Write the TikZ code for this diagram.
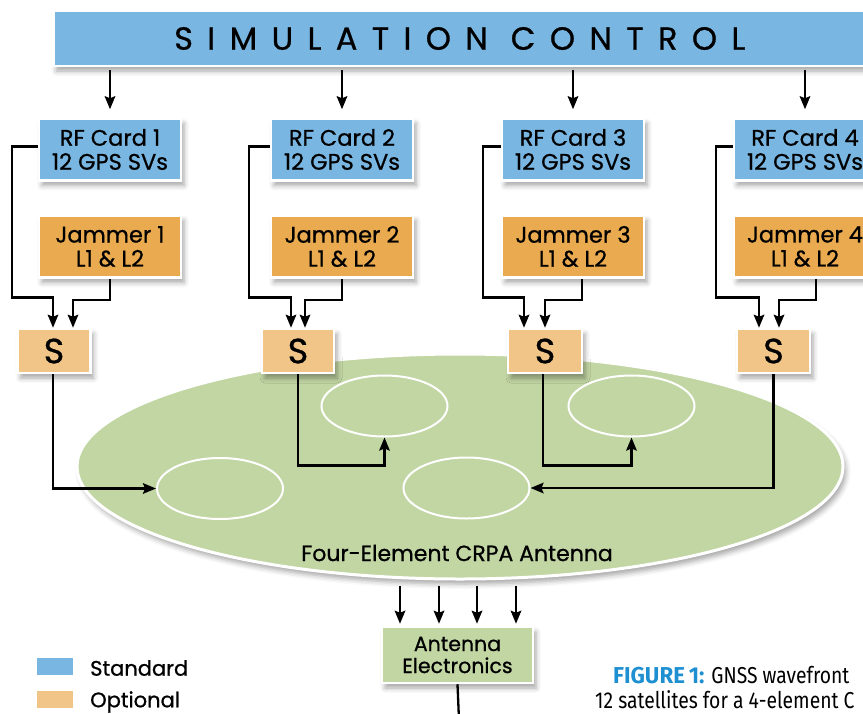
\documentclass[tikz,border=0pt]{standalone}
\usepackage{fontspec}
\setmainfont{Poppins}[FakeBold=0.8]
\newfontfamily\narrowfont[FakeStretch=0.84]{Fira Sans}
\newfontfamily\capbold[FakeStretch=0.97]{Fira Sans}
\newfontfamily\spacedfont[LetterSpace=45,FakeBold=0.8]{Poppins}
\usetikzlibrary{arrows.meta,shapes.geometric,shadows.blur}
\definecolor{stdblue}{HTML}{7AB6E2}
\definecolor{jamorange}{HTML}{E9AA50}
\definecolor{optorange}{HTML}{F1C588}
\definecolor{antgreen}{HTML}{C2D6A4}
\definecolor{capblue}{HTML}{1E90D2}
\begin{document}
\begin{tikzpicture}[x=1pt,y=-1pt,
  shad/.style={blur shadow={shadow xshift=3pt,shadow yshift=-5pt,shadow blur radius=5pt,shadow opacity=35}},
  box/.style={shad,draw=white,line width=2.5pt,minimum width=142pt,minimum height=62pt,align=center,inner sep=0pt,font=\fontsize{22.5}{24}\selectfont},
  sbox/.style={shad,draw=white,line width=2.5pt,fill=optorange,minimum height=44pt,inner sep=0pt,font=\fontsize{35}{35}\selectfont},
  elem/.style={ellipse,draw=white,line width=2pt,fill=antgreen,minimum width=126pt,minimum height=61pt,inner sep=0pt},
  arr/.style={line width=2.3pt,-{Stealth[length=13pt,width=10.5pt,inset=2pt]}},
  ln/.style={line width=2.3pt},
  legsq/.style={draw=white,line width=0.8pt,minimum width=37pt,minimum height=18pt,inner sep=0pt},
  captxt/.style={anchor=base west,inner sep=0pt,font=\narrowfont\fontsize{23}{25}\selectfont}
]
\useasboundingbox (0,0) rectangle (863,713);
\clip (0,0) rectangle (863,713);

% simulation control
\node[box,fill=stdblue,minimum width=813pt,minimum height=55pt,anchor=west] (sim) at (52,38.5)
  {\spacedfont\fontsize{32}{32}\selectfont SIMULATION CONTROL};

% RF cards
\node[box,fill=stdblue] (rf1) at (110,149.5) {RF Card 1\\12 GPS SVs};
\node[box,fill=stdblue] (rf2) at (342,149.5) {RF Card 2\\12 GPS SVs};
\node[box,fill=stdblue] (rf3) at (573,149.5) {RF Card 3\\12 GPS SVs};
\node[box,fill=stdblue] (rf4) at (805,149.5) {RF Card 4\\12 GPS SVs};

% jammers
\node[box,fill=jamorange] (j1) at (110,246.5) {Jammer 1\\L1 \& L2};
\node[box,fill=jamorange] (j2) at (342,246.5) {Jammer 2\\L1 \& L2};
\node[box,fill=jamorange] (j3) at (573,246.5) {Jammer 3\\L1 \& L2};
\node[box,fill=jamorange] (j4) at (805,246.5) {Jammer 4\\L1 \& L2};

% antenna
\node[shad,ellipse,draw=white,line width=3pt,fill=antgreen,minimum width=766pt,minimum height=225pt] (crpa) at (460,466.5) {};
\node[font=\fontsize{22}{24}\selectfont,inner sep=0pt] (crpalbl) at (457,553) {Four-Element CRPA Antenna};
\node[elem] (e1) at (220,488.5) {};
\node[elem] (e2) at (384.5,406) {};
\node[elem] (e3) at (466.5,488) {};
\node[elem] (e4) at (631.5,406) {};

% splitters
\node[sbox,minimum width=73pt] (s1) at (54,351) {S};
\node[sbox,minimum width=72pt] (s2) at (298,351) {S};
\node[sbox,minimum width=74pt] (s3) at (545,351) {S};
\node[sbox,minimum width=73pt] (s4) at (773.5,351) {S};

% sim -> RF
\foreach \r in {rf1,rf2,rf3,rf4}
  \draw[arr,shorten <=3pt,shorten >=8pt] (sim.south -| \r.north) -- (\r.north);

% group 1
\draw[arr] ([yshift=3pt]rf1.west) -| ++(-26,151) -| ([xshift=-1pt]s1.north);
\draw[arr] (j1.south) -- ++(0,21) -| ([xshift=19pt]s1.north);
% group 2
\draw[arr] ([yshift=3pt]rf2.west) -| ++(-21,151) -| ([xshift=-7pt]s2.north);
\draw[arr] (j2.south) -- ++(0,21) -| ([xshift=7pt]s2.north);
% group 3
\draw[arr] ([yshift=3pt]rf3.west) -| ++(-18,151) -| ([xshift=-21pt]s3.north);
\draw[arr] ([xshift=9pt]j3.south) -- ++(0,21) -| (s3.north);
% group 4
\draw[arr] ([yshift=3pt]rf4.west) -| ++(-17,151) -| ([xshift=-14.5pt]s4.north);
\draw[arr] ([xshift=11pt]j4.south) -- ++(0,21) -| ([xshift=5.5pt]s4.north);

% splitters -> elements
\draw[arr] ([xshift=-1pt]s1.south) |- (e1.west);
\draw[arr] (s2.south) |- ([yshift=-28pt]e2.south) -- (e2.south);
\draw[arr] ([xshift=-2pt]s3.south) |- ([yshift=-28pt]e4.south) -- (e4.south);
\draw[arr] (s4.south) |- (e3.east);

% antenna electronics
\node[box,fill=antgreen,minimum width=151pt,minimum height=56pt,font=\fontsize{20.5}{22}\selectfont] (ae) at (457.5,655) {Antenna\\Electronics};
\foreach \dx in {-60,-21,17,56}
  \draw[arr,shorten <=5pt,shorten >=2pt] ([xshift=\dx pt]crpa.south) -- ([xshift=\dx pt,xshift=2.5pt]ae.north);
\coordinate (bot) at (459,720);
\draw[ln] (ae.south) -- (bot);

% legend
\node[legsq,fill=stdblue] (lgstd) at (54.5,666) {};
\node[anchor=west,inner sep=0pt,font=\fontsize{21}{24}\selectfont] (lgstdt) at (90,668) {Standard};
\node[legsq,fill=optorange] (lgopt) at (54.5,699) {};
\node[anchor=west,inner sep=0pt,font=\fontsize{21}{24}\selectfont] (lgoptt) at (90,702) {Optional};

% caption
\node[captxt] (cap1) at (613,683)
  {\textcolor{capblue}{\capbold\bfseries FIGURE\,1:} GNSS wavefront};
\node[captxt] (cap2) at (595,708)
  {12 satellites for a 4-element C};
\end{tikzpicture}
\end{document}
